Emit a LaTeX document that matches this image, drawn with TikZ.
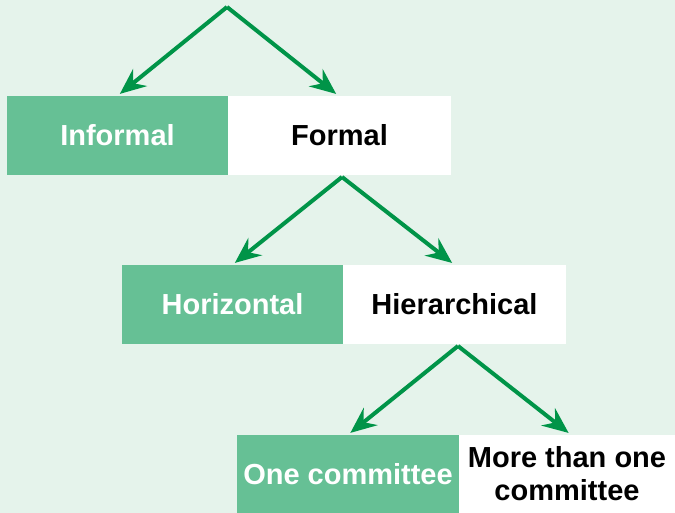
\documentclass[tikz,border=0pt]{standalone}
\usepackage{fontspec}
\setmainfont{Liberation Sans}
\usetikzlibrary{arrows.meta}
\definecolor{bgc}{HTML}{E5F3EB}
\definecolor{boxg}{HTML}{66C095}
\definecolor{arrg}{HTML}{009448}
\tikzset{
  gbox/.style={fill=boxg, draw=none, text=white, minimum height=79pt, inner sep=0pt,
    font=\fontsize{29}{33}\selectfont\bfseries, align=center},
  wbox/.style={fill=white, draw=none, text=black, minimum height=79pt, inner sep=0pt,
    font=\fontsize{29}{33}\selectfont\bfseries, align=center},
  arr/.style={draw=arrg, line width=4pt, -{Stealth[length=26pt,width=22pt,inset=9pt]}, shorten >=3pt}
}
\begin{document}
\begin{tikzpicture}[x=1pt,y=-1pt]
\fill[bgc] (0,0) rectangle (675,513);
\useasboundingbox (0,0) rectangle (675,513);
% row 1
\node[gbox, minimum width=221pt] (informal) at (117.5,135.5) {Informal};
\node[wbox, minimum width=223pt] (formal) at (339.5,135.5) {Formal};
% row 2
\node[gbox, minimum width=221pt] (horizontal) at (232.5,304.5) {Horizontal};
\node[wbox, minimum width=223pt] (hier) at (454.5,304.5) {Hierarchical};
% row 3
\node[gbox, minimum width=222pt, minimum height=78pt] (one) at (348,474) {One committee};
\node[wbox, minimum width=216pt, minimum height=78pt] (more) at (567,474) {More than one\\committee};
% apexes
\coordinate (a1) at (227,7);
\coordinate (a2) at (342,177);
\coordinate (a3) at (458,346);
\draw[arr] (a1) -- (informal.north);
\draw[arr] (a1) -- ([xshift=-1pt]formal.north);
\draw[arr] (a2) -- (horizontal.north);
\draw[arr] (a2) -- (hier.north);
\draw[arr] (a3) -- (one.north);
\draw[arr] (a3) -- ([xshift=4pt]more.north);
\end{tikzpicture}
\end{document}
